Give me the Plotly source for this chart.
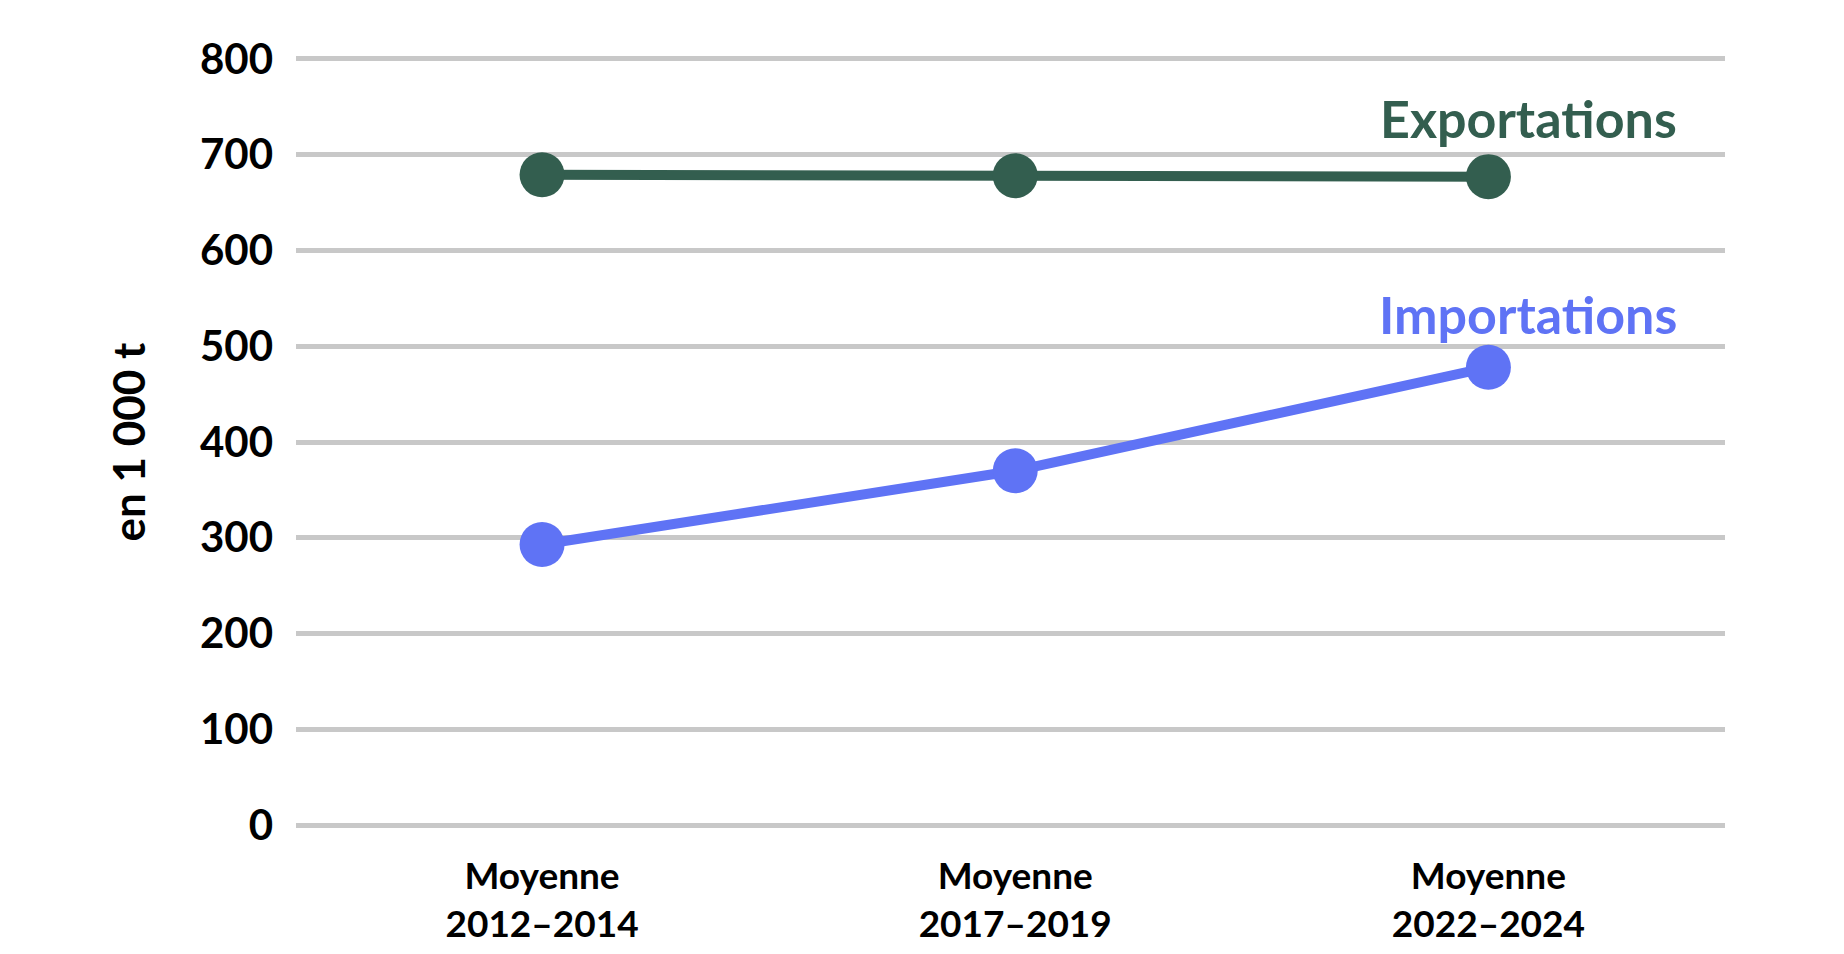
import plotly.graph_objects as go

periodes = ["Moyenne<br>2012–2014", "Moyenne<br>2017–2019", "Moyenne<br>2022–2024"]
exportations = [679, 678, 677]
importations = [293, 370, 478]
y_ticks = [0, 100, 200, 300, 400, 500, 600, 700, 800]

vert = "#335E4F"
bleu = "#5F73F5"
police = "Lato"

fig = go.Figure()

fig.add_trace(go.Scatter(
    x=periodes, y=exportations, mode="lines+markers", name="Exportations",
    line=dict(color=vert, width=10), marker=dict(color=vert, size=45),
))
fig.add_trace(go.Scatter(
    x=periodes, y=importations, mode="lines+markers", name="Importations",
    line=dict(color=bleu, width=10), marker=dict(color=bleu, size=45),
))

# libellés des séries à droite
fig.add_annotation(x=2, y=738, text="Exportations", showarrow=False, xshift=40,
                   font=dict(family=police, size=52, color=vert, weight="bold"))
fig.add_annotation(x=2, y=534, text="Importations", showarrow=False, xshift=40,
                   font=dict(family=police, size=52, color=bleu, weight="bold"))

fig.update_layout(
    width=1844, height=954,
    margin=dict(l=288, r=127, t=47, b=133),
    paper_bgcolor="white", plot_bgcolor="white",
    showlegend=False,
    font=dict(family=police, color="black", weight="bold"),
)
fig.update_xaxes(
    type="category", range=[-0.52, 2.5], showgrid=False, zeroline=False,
    showline=False, ticks="", tickfont=dict(size=37), ticklabelstandoff=22,
)
fig.update_yaxes(
    range=[-4, 804], tickvals=y_ticks, showgrid=True, gridcolor="#C8C8C8",
    gridwidth=5, zeroline=False, showline=False, ticks="",
    tickfont=dict(size=42), ticklabelstandoff=22,
    title=dict(text="en 1 000 t", font=dict(size=44), standoff=40),
)

fig.write_html("out.html")
